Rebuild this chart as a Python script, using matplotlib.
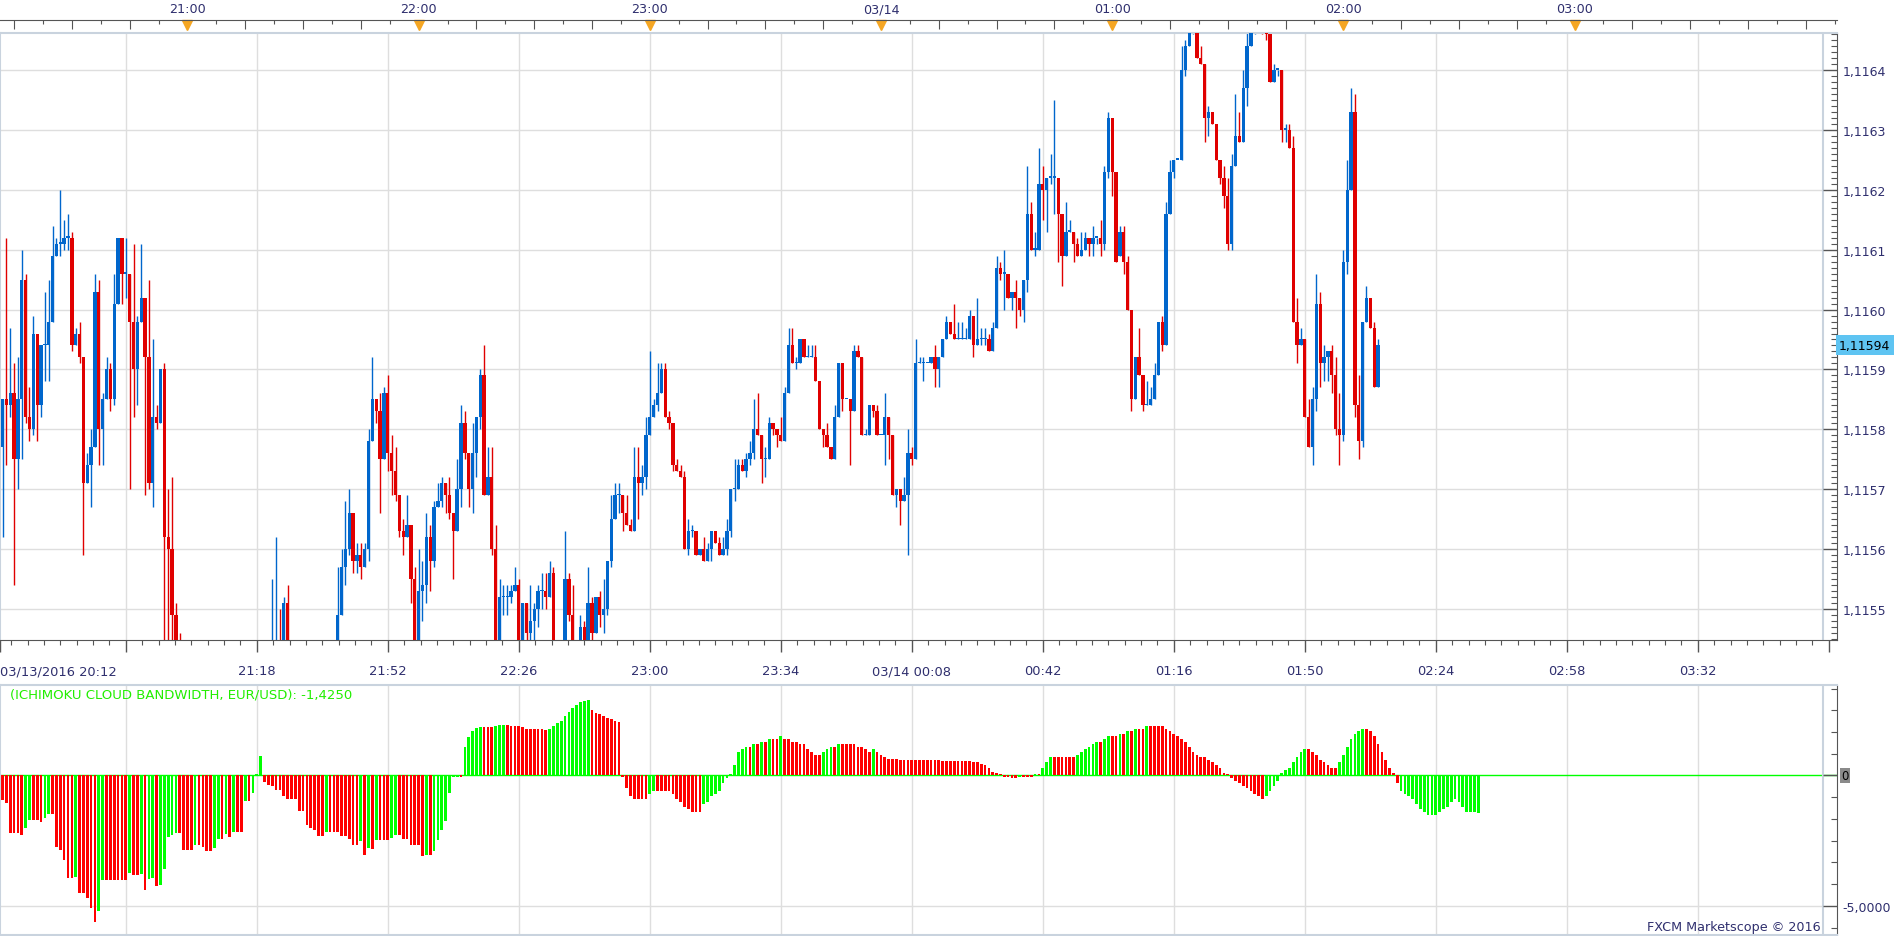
import numpy as np
import matplotlib.pyplot as plt
from matplotlib.ticker import FixedLocator, MultipleLocator, FuncFormatter

# EUR/USD 1-minute candles starting 03/13/2016 20:12
# prices are quoted in pips above 1.1100 (59.4 -> 1.11594)
start_text = "03/13/2016 20:12"
start_clock = "20:12"

opens = [
    57.7, 58.5, 58.4, 58.6, 57.5, 58.5, 60.5, 58.2, 58.0, 59.6,
    58.4, 59.4, 59.4, 59.8, 60.9, 61.1, 61.1, 61.2, 61.2, 59.4,
    59.6, 59.2, 57.1, 57.4, 57.7, 60.3, 58.0, 58.5, 59.0, 58.5,
    60.1, 61.2, 60.6, 60.6, 59.8, 59.0, 59.8, 60.2, 59.2, 57.1,
    58.2, 58.1, 59.0, 56.2, 56.0, 54.9, 54.2, 54.0, 53.8, 53.5,
    53.7, 53.4, 53.1, 53.3, 53.6, 53.9, 53.6, 53.4, 53.2, 53.5,
    53.8, 54.0, 53.7, 53.5, 53.6, 53.9, 53.7, 54.0, 53.8, 53.9,
    54.0, 54.3, 54.4, 54.3, 55.1, 54.1, 53.8, 53.6, 53.9, 53.7,
    53.5, 53.8, 54.0, 53.8, 53.9, 54.1, 53.9, 54.0, 54.9, 55.7,
    56.0, 56.6, 55.8, 55.9, 55.7, 56.0, 57.8, 58.5, 58.3, 57.5,
    58.6, 57.6, 57.3, 56.9, 56.3, 56.2, 56.4, 55.5, 54.3, 55.3,
    55.4, 56.2, 55.8, 56.7, 56.8, 57.1, 56.9, 56.6, 56.3, 57.0,
    58.1, 57.6, 57.0, 57.6, 58.2, 58.9, 56.9, 57.2, 56.0, 54.3,
    55.2, 55.2, 55.2, 55.3, 55.4, 54.3, 55.1, 54.6, 54.8, 55.0,
    55.3, 55.3, 55.2, 55.6, 54.3, 54.1, 54.2, 55.5, 54.9, 54.3,
    54.2, 54.7, 54.4, 55.1, 54.6, 55.2, 54.9, 55.0, 55.8, 56.5,
    56.9, 56.9, 56.6, 56.4, 56.3, 57.2, 57.1, 57.2, 57.9, 58.2,
    58.4, 58.6, 59.0, 58.2, 58.1, 57.4, 57.3, 57.2, 56.0, 56.3,
    56.3, 55.9, 56.0, 55.8, 56.0, 56.3, 56.1, 55.9, 56.0, 56.3,
    57.0, 57.0, 57.4, 57.3, 57.5, 57.6, 58.0, 57.9, 57.5, 57.5,
    58.1, 58.0, 57.9, 57.8, 58.6, 59.4, 59.1, 59.1, 59.5, 59.2,
    59.2, 59.2, 58.8, 58.0, 57.9, 57.7, 57.5, 58.2, 59.1, 58.5,
    58.5, 58.3, 59.3, 59.2, 57.9, 57.9, 58.4, 58.3, 57.9, 57.9,
    58.2, 57.9, 56.9, 57.0, 56.8, 56.9, 57.6, 57.5, 59.1, 59.1,
    59.1, 59.1, 59.2, 59.0, 59.2, 59.5, 59.8, 59.6, 59.5, 59.5,
    59.5, 59.5, 59.9, 59.4, 59.5, 59.5, 59.5, 59.3, 59.7, 60.7,
    60.6, 60.6, 60.2, 60.3, 60.2, 60.0, 60.5, 61.6, 61.0, 61.0,
    62.1, 62.0, 62.2, 62.2, 62.2, 61.6, 60.9, 61.3, 61.3, 61.1,
    60.9, 61.0, 61.2, 61.1, 61.2, 61.2, 61.1, 62.3, 63.2, 62.3,
    60.9, 61.3, 60.8, 60.0, 58.5, 59.2, 58.9, 58.4, 58.4, 58.5,
    58.9, 59.8, 59.4, 61.6, 62.3, 62.5, 62.5, 64.0, 64.4, 64.7,
    64.8, 64.2, 64.1, 63.2, 63.3, 63.1, 62.5, 62.2, 61.9, 61.1,
    62.4, 62.9, 62.8, 63.7, 64.4, 64.7, 64.9, 65.0, 64.8, 64.6,
    63.8, 64.0, 64.0, 63.0, 63.0, 62.7, 59.8, 59.4, 59.5, 58.2,
    57.7, 58.5, 60.1, 59.1, 59.2, 59.3, 58.9, 58.0, 57.9, 60.8,
    62.0, 63.3, 58.4, 57.8, 59.8, 60.2, 59.7, 58.7,
]
highs = [
    58.5, 61.2, 59.7, 59.1, 59.2, 61.0, 60.6, 58.7, 59.9, 59.6,
    59.4, 60.3, 60.5, 61.4, 61.2, 62.0, 61.5, 61.6, 61.3, 59.7,
    59.8, 59.2, 57.6, 58.0, 60.6, 60.5, 58.6, 59.2, 59.1, 60.6,
    61.2, 61.2, 61.2, 60.6, 61.1, 59.9, 61.1, 60.2, 60.5, 59.5,
    58.4, 59.0, 59.1, 57.0, 57.2, 55.1, 54.6, 54.3, 54.1, 53.9,
    54.0, 53.6, 53.5, 53.8, 54.1, 54.2, 53.9, 53.7, 53.6, 53.9,
    54.2, 54.3, 54.0, 53.8, 54.0, 54.2, 54.1, 54.3, 54.1, 54.2,
    55.5, 56.2, 55.0, 55.2, 55.4, 54.3, 54.1, 54.0, 54.2, 54.0,
    53.9, 54.2, 54.3, 54.1, 54.3, 54.3, 54.2, 55.7, 56.0, 56.8,
    57.0, 56.6, 56.1, 56.1, 56.1, 58.0, 59.2, 58.5, 58.6, 58.7,
    58.9, 57.9, 57.7, 56.9, 56.5, 56.9, 56.4, 55.7, 56.0, 55.8,
    56.6, 56.4, 56.8, 57.1, 57.2, 57.1, 57.2, 56.6, 57.5, 58.4,
    58.3, 57.6, 58.1, 58.2, 59.0, 59.4, 57.7, 57.7, 56.4, 55.5,
    55.4, 55.4, 55.4, 55.7, 55.5, 55.1, 55.1, 55.4, 55.1, 55.4,
    55.6, 55.6, 55.8, 55.7, 54.4, 54.3, 56.3, 55.6, 55.4, 54.4,
    54.9, 54.8, 55.7, 55.2, 55.2, 55.3, 55.5, 55.8, 56.9, 57.1,
    57.1, 56.9, 56.9, 56.5, 57.7, 57.7, 57.4, 58.2, 59.3, 58.5,
    59.1, 59.1, 59.1, 58.3, 58.1, 57.5, 57.4, 57.3, 56.5, 56.4,
    56.3, 56.0, 56.2, 56.1, 56.3, 56.3, 56.2, 56.2, 56.5, 57.0,
    57.5, 57.5, 57.5, 57.6, 57.8, 58.5, 58.6, 57.9, 57.7, 58.2,
    58.1, 58.0, 58.2, 58.7, 59.7, 59.7, 59.2, 59.5, 59.5, 59.4,
    59.4, 59.4, 58.8, 58.0, 58.1, 57.7, 58.4, 59.1, 59.1, 58.5,
    58.5, 59.4, 59.4, 59.2, 58.0, 58.4, 58.4, 58.4, 57.9, 58.6,
    58.2, 57.9, 57.0, 57.0, 57.2, 58.0, 57.7, 59.5, 59.2, 59.2,
    59.1, 59.2, 59.4, 59.2, 59.5, 59.9, 59.8, 60.1, 59.8, 59.8,
    59.7, 60.0, 59.9, 60.2, 59.7, 59.7, 59.6, 59.8, 60.9, 60.8,
    61.0, 60.6, 60.3, 60.5, 60.2, 60.5, 62.4, 61.8, 61.3, 62.7,
    62.4, 62.2, 62.6, 63.5, 62.2, 61.6, 61.8, 61.5, 61.3, 61.2,
    61.3, 61.3, 61.2, 61.4, 61.2, 61.5, 62.4, 63.3, 63.2, 62.3,
    61.4, 61.4, 60.9, 60.0, 59.2, 59.7, 58.9, 58.8, 58.7, 59.1,
    59.8, 59.9, 61.8, 62.5, 62.5, 62.5, 64.4, 64.5, 64.8, 65.0,
    64.9, 64.4, 64.1, 63.4, 63.3, 63.1, 62.5, 62.4, 62.2, 62.6,
    63.6, 63.3, 64.0, 64.7, 64.8, 65.1, 65.3, 65.2, 65.0, 64.8,
    64.1, 64.0, 64.0, 63.1, 63.1, 62.9, 60.2, 59.7, 59.5, 58.5,
    58.7, 60.6, 60.3, 59.4, 59.3, 59.4, 59.2, 58.6, 61.0, 62.5,
    63.7, 63.6, 58.9, 59.8, 60.4, 60.2, 59.8, 59.5,
]
lows = [
    56.2, 57.4, 58.2, 55.4, 57.0, 57.5, 58.1, 57.8, 57.9, 57.8,
    58.2, 58.8, 58.8, 59.8, 60.9, 60.9, 61.0, 61.0, 59.3, 59.4,
    59.1, 55.9, 57.1, 56.7, 57.7, 57.4, 57.4, 58.5, 58.3, 58.4,
    60.1, 60.1, 60.2, 57.0, 58.2, 58.4, 59.8, 56.9, 57.0, 56.7,
    58.0, 58.1, 54.3, 54.4, 54.3, 54.0, 53.8, 53.6, 53.4, 53.2,
    53.3, 52.9, 52.8, 53.1, 53.4, 53.5, 53.2, 53.0, 52.9, 53.3,
    53.6, 53.6, 53.4, 53.2, 53.4, 53.6, 53.5, 53.7, 53.5, 53.6,
    53.8, 54.0, 54.0, 54.0, 53.9, 53.6, 53.4, 53.3, 53.5, 53.3,
    53.2, 53.6, 53.7, 53.5, 53.6, 53.7, 53.6, 53.8, 54.9, 55.4,
    55.9, 55.6, 55.6, 55.5, 55.7, 55.8, 57.8, 58.1, 56.6, 57.5,
    57.3, 56.9, 56.8, 56.2, 55.9, 56.2, 55.1, 54.2, 54.2, 54.8,
    55.1, 55.3, 55.7, 56.7, 56.7, 56.6, 56.5, 55.5, 56.3, 56.7,
    57.5, 56.7, 56.6, 57.2, 58.0, 56.9, 56.9, 55.9, 54.2, 54.2,
    54.9, 54.9, 55.1, 55.3, 54.2, 54.2, 54.4, 54.3, 54.4, 54.7,
    55.0, 55.0, 55.2, 54.2, 53.9, 53.8, 54.1, 54.8, 54.2, 53.9,
    54.1, 54.2, 54.2, 54.3, 54.6, 54.7, 54.6, 54.9, 55.7, 56.5,
    56.6, 56.3, 56.4, 56.3, 56.3, 56.5, 56.9, 57.0, 57.9, 58.2,
    58.3, 58.6, 58.2, 58.0, 57.3, 57.3, 57.2, 56.0, 55.9, 56.2,
    55.9, 55.9, 55.8, 55.8, 55.8, 56.1, 55.9, 55.9, 55.9, 56.2,
    56.8, 57.0, 57.3, 57.2, 57.4, 57.5, 57.9, 57.1, 57.2, 57.5,
    57.9, 57.7, 57.8, 57.8, 58.6, 59.1, 59.0, 59.1, 59.2, 59.2,
    59.2, 58.8, 58.0, 57.7, 57.7, 57.5, 57.5, 58.2, 58.3, 58.5,
    57.4, 58.3, 59.2, 57.9, 57.9, 57.9, 58.2, 57.9, 57.9, 57.4,
    57.5, 56.9, 56.7, 56.4, 56.8, 55.9, 57.4, 57.5, 59.1, 58.8,
    59.1, 59.1, 58.7, 58.7, 59.2, 59.5, 59.6, 59.5, 59.5, 59.5,
    59.5, 59.5, 59.2, 59.4, 59.4, 59.4, 59.3, 59.3, 59.7, 60.5,
    60.0, 60.2, 60.0, 59.7, 59.9, 59.8, 60.3, 61.0, 60.9, 61.0,
    61.5, 61.3, 62.1, 61.6, 60.8, 60.4, 60.9, 61.3, 60.8, 60.9,
    60.9, 61.0, 60.9, 60.9, 61.1, 60.9, 61.0, 62.2, 61.9, 60.8,
    60.9, 60.6, 60.0, 58.3, 58.5, 58.9, 58.3, 58.4, 58.4, 58.5,
    58.9, 59.3, 59.4, 61.6, 62.2, 62.5, 62.5, 63.9, 64.4, 64.6,
    64.2, 64.1, 62.8, 62.9, 63.1, 62.5, 62.1, 61.7, 61.0, 61.0,
    62.4, 62.8, 62.8, 63.4, 64.4, 64.6, 64.7, 64.6, 64.5, 63.8,
    63.8, 63.9, 62.8, 62.8, 62.7, 59.8, 59.1, 59.4, 58.2, 57.7,
    57.4, 58.3, 58.7, 58.8, 58.8, 58.6, 57.9, 57.4, 57.8, 60.6,
    62.0, 58.2, 57.5, 57.7, 59.8, 59.7, 58.7, 58.7,
]
closes = [
    58.5, 58.4, 58.6, 57.5, 58.5, 60.5, 58.2, 58.0, 59.6, 58.4,
    59.4, 59.4, 59.8, 60.9, 61.1, 61.1, 61.2, 61.2, 59.4, 59.6,
    59.2, 57.1, 57.4, 57.7, 60.3, 58.0, 58.5, 59.0, 58.5, 60.1,
    61.2, 60.6, 60.6, 59.8, 59.0, 59.8, 60.2, 59.2, 57.1, 58.2,
    58.1, 59.0, 56.2, 56.0, 54.9, 54.2, 54.0, 53.8, 53.5, 53.7,
    53.4, 53.1, 53.3, 53.6, 53.9, 53.6, 53.4, 53.2, 53.5, 53.8,
    54.0, 53.7, 53.5, 53.6, 53.9, 53.7, 54.0, 53.8, 53.9, 54.0,
    54.3, 54.4, 54.3, 55.1, 54.1, 53.8, 53.6, 53.9, 53.7, 53.5,
    53.8, 54.0, 53.8, 53.9, 54.1, 53.9, 54.0, 54.9, 55.7, 56.0,
    56.6, 55.8, 55.9, 55.7, 56.0, 57.8, 58.5, 58.3, 57.5, 58.6,
    57.6, 57.3, 56.9, 56.3, 56.2, 56.4, 55.5, 54.3, 55.3, 55.4,
    56.2, 55.8, 56.7, 56.8, 57.1, 56.9, 56.6, 56.3, 57.0, 58.1,
    57.6, 57.0, 57.6, 58.2, 58.9, 56.9, 57.2, 56.0, 54.3, 55.2,
    55.2, 55.2, 55.3, 55.4, 54.3, 55.1, 54.6, 54.8, 55.0, 55.3,
    55.3, 55.2, 55.6, 54.3, 54.1, 54.2, 55.5, 54.9, 54.3, 54.2,
    54.7, 54.4, 55.1, 54.6, 55.2, 54.9, 55.0, 55.8, 56.5, 56.9,
    56.9, 56.6, 56.4, 56.3, 57.2, 57.1, 57.2, 57.9, 58.2, 58.4,
    58.6, 59.0, 58.2, 58.1, 57.4, 57.3, 57.2, 56.0, 56.3, 56.3,
    55.9, 56.0, 55.8, 56.0, 56.3, 56.1, 55.9, 56.0, 56.3, 57.0,
    57.0, 57.4, 57.3, 57.5, 57.6, 58.0, 57.9, 57.5, 57.5, 58.1,
    58.0, 57.9, 57.8, 58.6, 59.4, 59.1, 59.1, 59.5, 59.2, 59.2,
    59.2, 58.8, 58.0, 57.9, 57.7, 57.5, 58.2, 59.1, 58.5, 58.5,
    58.3, 59.3, 59.2, 57.9, 57.9, 58.4, 58.3, 57.9, 57.9, 58.2,
    57.9, 56.9, 57.0, 56.8, 56.9, 57.6, 57.5, 59.1, 59.1, 59.1,
    59.1, 59.2, 59.0, 59.2, 59.5, 59.8, 59.6, 59.5, 59.5, 59.5,
    59.5, 59.9, 59.4, 59.5, 59.5, 59.5, 59.3, 59.7, 60.7, 60.6,
    60.6, 60.2, 60.3, 60.2, 60.0, 60.5, 61.6, 61.0, 61.0, 62.1,
    62.0, 62.2, 62.2, 62.2, 61.6, 60.9, 61.3, 61.3, 61.1, 60.9,
    61.0, 61.2, 61.1, 61.2, 61.2, 61.1, 62.3, 63.2, 62.3, 60.8,
    61.3, 60.8, 60.0, 58.5, 59.2, 58.9, 58.4, 58.4, 58.5, 58.9,
    59.8, 59.4, 61.6, 62.3, 62.5, 62.5, 64.0, 64.4, 64.7, 64.8,
    64.2, 64.1, 63.2, 63.3, 63.1, 62.5, 62.2, 61.9, 61.1, 62.4,
    62.9, 62.8, 63.7, 64.4, 64.7, 64.9, 65.0, 64.8, 64.6, 63.8,
    64.0, 64.0, 63.0, 63.0, 62.7, 59.8, 59.4, 59.5, 58.2, 57.7,
    58.5, 60.1, 59.1, 59.2, 59.3, 58.9, 58.0, 57.9, 60.8, 62.0,
    63.3, 58.4, 57.8, 59.8, 60.2, 59.7, 58.7, 59.4,
]

# Ichimoku cloud bandwidth histogram (one bar per minute, 26 bars past the last candle)
band = [
    -0.93, -1.05, -2.20, -2.20, -2.20, -2.27, -2.01, -1.70, -1.70, -1.70,
    -1.78, -1.62, -1.47, -1.47, -2.73, -2.85, -3.23, -3.92, -3.92, -3.90,
    -4.50, -4.50, -4.69, -5.07, -5.64, -5.19, -4.00, -4.00, -4.00, -4.00,
    -4.00, -4.00, -4.00, -3.73, -3.81, -3.81, -3.77, -4.38, -3.96, -3.92,
    -4.23, -4.21, -3.58, -2.35, -2.27, -2.20, -2.20, -2.85, -2.85, -2.85,
    -2.66, -2.66, -2.73, -2.89, -2.89, -2.77, -2.43, -2.43, -2.23, -2.35,
    -2.16, -2.16, -2.16, -0.97, -0.97, -0.66, 0.06, 0.73, -0.24, -0.36,
    -0.40, -0.55, -0.55, -0.78, -0.89, -0.89, -0.89, -1.35, -1.35, -1.89,
    -2.01, -2.08, -2.31, -2.31, -2.16, -2.16, -2.16, -2.16, -2.31, -2.31,
    -2.43, -2.66, -2.66, -2.50, -3.04, -2.77, -2.81, -2.46, -2.46, -2.46,
    -2.46, -2.39, -2.27, -2.27, -2.43, -2.43, -2.66, -2.66, -2.66, -3.08,
    -3.04, -3.04, -2.89, -2.46, -2.08, -1.74, -0.66, -0.06, -0.04, -0.04,
    1.10, 1.48, 1.71, 1.83, 1.86, 1.86, 1.86, 1.86, 1.90, 1.94,
    1.95, 1.95, 1.90, 1.90, 1.90, 1.85, 1.80, 1.80, 1.80, 1.80,
    1.80, 1.75, 1.80, 1.90, 2.00, 2.10, 2.30, 2.45, 2.60, 2.70,
    2.80, 2.85, 2.90, 2.50, 2.40, 2.35, 2.30, 2.20, 2.15, 2.10,
    2.05, -0.05, -0.50, -0.80, -0.90, -0.90, -0.90, -0.90, -0.70, -0.60,
    -0.60, -0.60, -0.60, -0.60, -0.70, -0.90, -1.00, -1.20, -1.30, -1.40,
    -1.40, -1.40, -1.10, -1.00, -0.80, -0.70, -0.60, -0.30, -0.10, 0.05,
    0.40, 0.90, 1.00, 1.10, 1.10, 1.20, 1.20, 1.30, 1.30, 1.40,
    1.40, 1.40, 1.50, 1.40, 1.40, 1.30, 1.30, 1.20, 1.20, 1.00,
    0.90, 0.80, 0.80, 0.90, 1.00, 1.10, 1.10, 1.20, 1.20, 1.20,
    1.20, 1.20, 1.10, 1.10, 1.00, 0.90, 1.00, 0.90, 0.80, 0.70,
    0.65, 0.65, 0.65, 0.60, 0.60, 0.60, 0.60, 0.60, 0.60, 0.60,
    0.60, 0.60, 0.60, 0.60, 0.55, 0.55, 0.55, 0.55, 0.55, 0.55,
    0.55, 0.55, 0.50, 0.50, 0.45, 0.40, 0.30, 0.15, 0.10, 0.05,
    -0.05, -0.05, -0.10, -0.10, -0.05, -0.05, -0.05, -0.05, 0.05, 0.05,
    0.30, 0.50, 0.70, 0.70, 0.70, 0.70, 0.70, 0.70, 0.70, 0.80,
    0.90, 1.00, 1.10, 1.20, 1.30, 1.30, 1.40, 1.50, 1.50, 1.50,
    1.60, 1.60, 1.70, 1.70, 1.80, 1.80, 1.80, 1.90, 1.90, 1.90,
    1.90, 1.90, 1.80, 1.70, 1.60, 1.50, 1.40, 1.30, 1.10, 0.90,
    0.80, 0.70, 0.70, 0.60, 0.50, 0.40, 0.30, 0.10, 0.05, -0.10,
    -0.20, -0.30, -0.40, -0.50, -0.60, -0.70, -0.80, -0.90, -0.80, -0.60,
    -0.40, -0.20, 0.10, 0.20, 0.30, 0.50, 0.70, 0.90, 1.00, 1.00,
    0.90, 0.80, 0.60, 0.50, 0.40, 0.30, 0.30, 0.50, 0.80, 1.10,
    1.40, 1.60, 1.70, 1.80, 1.80, 1.70, 1.50, 1.20, 0.90, 0.60,
    0.30, 0.10, -0.30, -0.60, -0.70, -0.80, -0.90, -1.10, -1.30, -1.40,
    -1.50, -1.50, -1.50, -1.40, -1.30, -1.20, -1.00, -0.90, -1.00, -1.20,
    -1.40, -1.40, -1.42, -1.425,
]
# bar colours seen on the chart (g = green, r = red); the rest follow the bar direction
band_colors_seen = (
    "rrrrrrggrr" "rggrrrrrrg" "rrrrrggrrr" "rrrgrrgrgg" "rggggg" "rrrr"
    "grrrrggrgr" "grrgrggg" "rr" "rrrrrrrrrr" "rrrrgrrrrr" "rrrgrgrgrr"
    "rggrrrrrrr" "grgggggggr" "gggggrrrgg"
)
band_colors_projected = "r" + "g" * 21   # last 22 bars, drawn green on the chart

bottom_ticks = ["21:18", "21:52", "22:26", "23:00", "23:34", "03/14 00:08",
                "00:42", "01:16", "01:50", "02:24", "02:58", "03:32"]
top_hours = ["21:00", "22:00", "23:00", "00:00", "01:00", "02:00", "03:00"]
top_hour_labels = ["21:00", "22:00", "23:00", "03/14", "01:00", "02:00", "03:00"]
band_label = "(ICHIMOKU CLOUD BANDWIDTH, EUR/USD): -1,4250"

assert len(opens) == len(highs) == len(lows) == len(closes)


def minutes_from_start(clock):
    hh, mm = clock[-5:].split(":")
    sh, sm = start_clock.split(":")
    m = int(hh) * 60 + int(mm) - (int(sh) * 60 + int(sm))
    return m + 1440 if m < -60 else m


base = 1.1100
o = base + np.array(opens) / 1e4
h = base + np.array(highs) / 1e4
l = base + np.array(lows) / 1e4
c = base + np.array(closes) / 1e4
idx = np.arange(len(c))

band_v = np.array(band)
n_tail = len(band_colors_projected)
cols = list(band_colors_seen)
for k in range(len(cols), len(band_v) - n_tail):
    cols.append("g" if band_v[k] > band_v[k - 1] else "r")
cols += list(band_colors_projected)

BLUE, RED = "#0066cc", "#e00000"
LIME, BRED = "#00ff00", "#ff0000"
GRID, FRAME, AXC, TXT = "#dedede", "#c9d3de", "#555555", "#2f2f6e"

W, H = 1903, 937
PXM = 3.853          # pixels per minute
X0 = 2.5             # pixel centre of first candle
fig = plt.figure(figsize=(W / 100, H / 100), dpi=100)
plt.rcParams["font.family"] = ["DejaVu Sans"]


def px2i(px):
    return (px - X0) / PXM


xl = (px2i(0), px2i(1837))
xframe = px2i(1823)

ax_top = fig.add_axes([0, 1 - 34 / H, 1837 / W, 13 / H])
ax = fig.add_axes([0, 1 - 641 / H, 1837 / W, 607 / H])
ax_ind = fig.add_axes([0, 1 - 936 / H, 1837 / W, 250 / H])

for a in (ax_top, ax, ax_ind):
    a.set_xlim(*xl)
    a.set_facecolor("white")

# ---- top time strip
ax_top.set_ylim(0, 1)
for s in ("left", "right", "bottom"):
    ax_top.spines[s].set_visible(False)
ax_top.spines["top"].set_color(AXC)
ax_top.xaxis.tick_top()
ax_top.yaxis.set_visible(False)
hour_pos = [minutes_from_start(t) for t in top_hours]
ax_top.xaxis.set_major_locator(FixedLocator([minutes_from_start("20:15") + 15 * k for k in range(32)]))
ax_top.xaxis.set_minor_locator(FixedLocator([minutes_from_start("20:15") + 7.5 + 15 * k for k in range(32)]))
ax_top.xaxis.set_major_formatter(FuncFormatter(lambda v, p: ""))
ax_top.tick_params(axis="x", which="major", direction="in", length=6.5, color=AXC, width=0.8)
ax_top.tick_params(axis="x", which="minor", direction="in", length=3, color=AXC, width=0.8)
for pos, lab in zip(hour_pos, top_hour_labels):
    ax_top.text(pos, 1.35, lab, transform=ax_top.get_xaxis_transform(), ha="center", va="bottom",
                fontsize=9.2, color=TXT)
ax_top.plot(hour_pos, [0.62] * len(hour_pos), linestyle="none", marker="v", ms=7.5,
            color="#f5a623", clip_on=False)

# ---- main price panel
ylo, yhi = base + 54.49 / 1e4, base + 64.61 / 1e4
ax.set_ylim(ylo, yhi)
price_ticks = np.arange(11155, 11165) / 1e4
vticks = [minutes_from_start(t) for t in bottom_ticks]
all_v = [minutes_from_start("20:44")] + vticks + [minutes_from_start("04:06")]
for y in price_ticks:
    ax.hlines(y, xl[0], xframe, color=GRID, lw=1, zorder=0)
for x in all_v:
    if x < xframe:
        ax.axvline(x, color=GRID, lw=1, zorder=0)
        ax_ind.axvline(x, color=GRID, lw=1, zorder=0)

up = c >= o
colors = np.where(up, BLUE, RED)
ax.vlines(idx, l, h, colors=colors, lw=1.0, zorder=2)
body_lo = np.minimum(o, c)
body_h = np.maximum(np.abs(c - o), 0.022e-4)
ax.bar(idx, body_h, bottom=body_lo, width=0.86, color=colors, linewidth=0, zorder=3)

ax.axvline(xframe, color=FRAME, lw=1.5, zorder=1)
for s in ("left", "top"):
    ax.spines[s].set_color(FRAME)
    ax.spines[s].set_linewidth(1.5)
ax.spines["right"].set_color(AXC)
ax.spines["bottom"].set_color(AXC)
ax.yaxis.tick_right()
ax.yaxis.set_major_locator(FixedLocator(price_ticks))
ax.yaxis.set_minor_locator(FixedLocator(np.arange(111545, 111647) / 1e5))
ax.yaxis.set_major_formatter(FuncFormatter(lambda v, p: f"{v:.4f}".replace(".", ",")))
ax.tick_params(axis="y", which="major", direction="in", length=10, width=1, color=AXC,
               labelcolor=TXT, labelsize=9, pad=4)
ax.tick_params(axis="y", which="minor", direction="in", length=4, width=0.8, color=AXC)
ax.xaxis.set_major_locator(FixedLocator([px2i(0)] + all_v))
ax.xaxis.set_minor_locator(FixedLocator(np.arange(-2, 480, 34 / 8)))
ax.xaxis.set_major_formatter(FuncFormatter(lambda v, p: ""))
ax.tick_params(axis="x", which="major", direction="out", length=8.5, width=1, color=AXC)
ax.tick_params(axis="x", which="minor", direction="out", length=3.5, width=0.8, color=AXC)
for pos, lab in zip(vticks, bottom_ticks):
    ax.text(pos, -0.051, lab, transform=ax.get_xaxis_transform(), ha="center", va="center",
            fontsize=9.4, color=TXT)
ax.text(0, -0.051, start_text, transform=ax.transAxes, ha="left", va="center",
        fontsize=9.4, color=TXT)

last = c[-1]
ax.text(1.0 + 2 / 1837, last, f"{last:.5f}".replace(".", ","), transform=ax.get_yaxis_transform(),
        ha="left", va="center", fontsize=9, color="black",
        bbox=dict(boxstyle="square,pad=0.28", fc="#5ec4f2", ec="none"))

# ---- indicator panel
bi = np.arange(len(band_v))
ax_ind.set_ylim(-6.12, 3.47)
ax_ind.hlines(-5, xl[0], xframe, color=GRID, lw=1, zorder=0)
ax_ind.axhline(0, color=LIME, lw=1, zorder=1)
ax_ind.bar(bi, band_v, width=0.7, color=[LIME if k == "g" else BRED for k in cols],
           linewidth=0, zorder=2)
ax_ind.axvline(xframe, color=FRAME, lw=1.5, zorder=1)
for s in ("left", "top", "bottom"):
    ax_ind.spines[s].set_color(FRAME)
    ax_ind.spines[s].set_linewidth(1.5)
ax_ind.spines["right"].set_color(AXC)
ax_ind.xaxis.set_visible(False)
ax_ind.yaxis.tick_right()
ax_ind.yaxis.set_major_locator(FixedLocator([-5, 0]))
ax_ind.yaxis.set_minor_locator(MultipleLocator(5 / 6))
ax_ind.yaxis.set_major_formatter(FuncFormatter(
    lambda v, p: "" if abs(v) < 1e-9 else f"{v:.4f}".replace(".", ",")))
ax_ind.tick_params(axis="y", which="major", direction="in", length=10, width=1, color=AXC,
                   labelcolor=TXT, labelsize=9, pad=4)
ax_ind.tick_params(axis="y", which="minor", direction="in", length=4, width=0.8, color=AXC)
ax_ind.text(1.0 + 4 / 1837, 0, "0", transform=ax_ind.get_yaxis_transform(), ha="left",
            va="center", fontsize=8.5, color="black",
            bbox=dict(boxstyle="square,pad=0.1", fc="#8a8a8a", ec="none"))
fig.text(10 / W, 1 - 695.5 / H, band_label, ha="left", va="center", fontsize=9.5, color="#22ee00")
fig.text(1820.5 / W, 1 - 927.7 / H, "FXCM Marketscope \u00a9 2016", ha="right", va="center",
         fontsize=9.2, color=TXT)

fig.savefig("out.png", dpi=100, facecolor="white")
